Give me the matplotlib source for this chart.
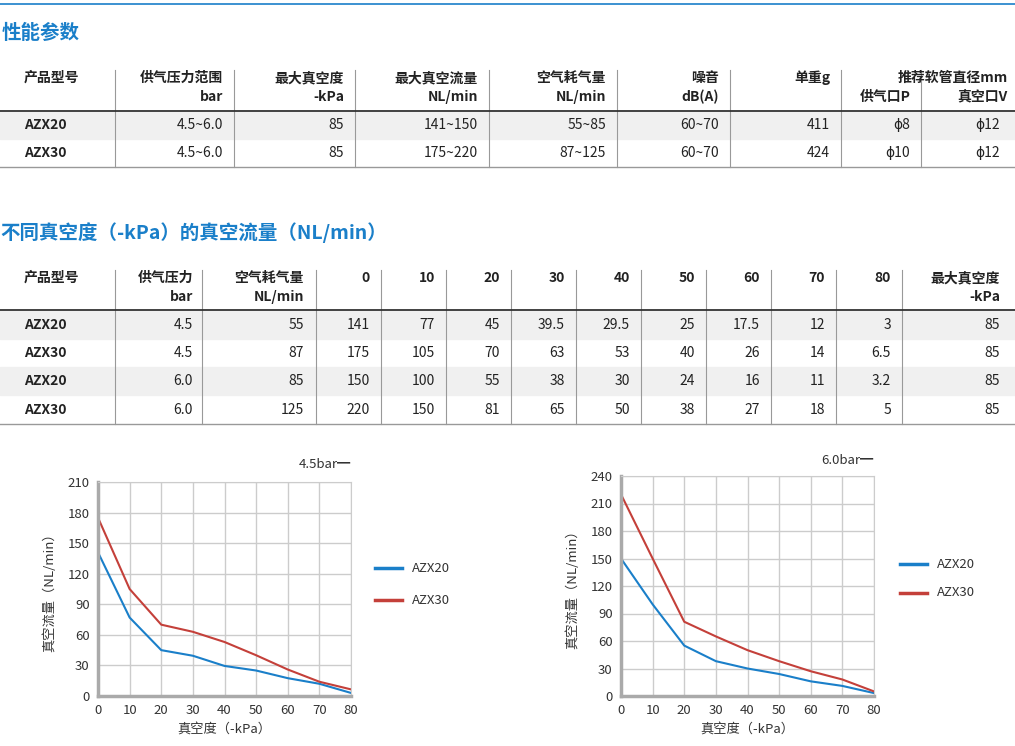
import matplotlib.pyplot as plt
import numpy as np

plt.rcParams['font.family'] = ['Noto Sans CJK SC', 'DejaVu Sans']

W, H = 1015, 746
BLUE = '#1a7fc9'
RED = '#c4403a'

# ---- data ----
vacuum = [0, 10, 20, 30, 40, 50, 60, 70, 80]
azx20_45 = [141, 77, 45, 39.5, 29.5, 25, 17.5, 12, 3]
azx30_45 = [175, 105, 70, 63, 53, 40, 26, 14, 6.5]
azx20_60 = [150, 100, 55, 38, 30, 24, 16, 11, 3.2]
azx30_60 = [220, 150, 81, 65, 50, 38, 27, 18, 5]

models = ['AZX20', 'AZX30']
supply_range = ['4.5~6.0', '4.5~6.0']
max_vac = ['85', '85']
max_flow = ['141~150', '175~220']
air_use = ['55~85', '87~125']
noise = ['60~70', '60~70']
weight = ['411', '424']
pipe_p = ['ϕ8', 'ϕ10']
pipe_v = ['ϕ12', 'ϕ12']

t2_models = ['AZX20', 'AZX30', 'AZX20', 'AZX30']
t2_pressure = ['4.5', '4.5', '6.0', '6.0']
t2_air = ['55', '87', '85', '125']
t2_flows = [azx20_45, azx30_45, azx20_60, azx30_60]

fig = plt.figure(figsize=(W / 100, H / 100), dpi=100)


def fx(x):
    return x / W


def fy(y):
    return 1 - y / H


def txt(x, y, s, ha='right', **kw):
    kw.setdefault('fontsize', 10)
    kw.setdefault('fontweight', 'bold')
    fig.text(fx(x), fy(y), s, ha=ha, va='center', color='#222222', **kw)


def hline(y, x0=0, x1=W, c='#999999', lw=1):
    fig.add_artist(plt.Line2D([fx(x0), fx(x1)], [fy(y), fy(y)], color=c, lw=lw))


def vline(x, y0, y1):
    fig.add_artist(plt.Line2D([fx(x), fx(x)], [fy(y0), fy(y1)], color='#999999', lw=0.8))


def shade(y0, y1):
    fig.add_artist(plt.Rectangle((0, fy(y1)), 1, (y1 - y0) / H, color='#f0f0f0', zorder=0))


hline(4, c=BLUE, lw=1.2)
fig.text(fx(2), fy(33), '性能参数', color=BLUE, fontsize=14, fontweight='bold', va='center')

# ---- table 1 ----
shade(112, 139)
seps1 = [115, 234, 355, 489, 617, 730, 841, 921]
for x in seps1:
    vline(x, 70, 167)
hline(111, c='#333333', lw=1.3)
hline(167)
txt(24, 78, '产品型号', ha='left')
heads = [('供气压力范围', 'bar'), ('最大真空度', '-kPa'), ('最大真空流量', 'NL/min'),
         ('空气耗气量', 'NL/min'), ('噪音', 'dB(A)')]
for (a, b), x in zip(heads, seps1[1:6]):
    txt(x - 11, 78, a)
    txt(x - 11, 97, b)
txt(830, 78, '单重g')
txt(1008, 78, '推荐软管直径mm')
txt(911, 97, '供气口P')
txt(1008, 97, '真空口V')
for i, y in enumerate([125, 153]):
    txt(24, y, models[i], ha='left')
    vals = [supply_range[i], max_vac[i], max_flow[i], air_use[i], noise[i], weight[i], pipe_p[i]]
    for v, x in zip(vals, seps1[1:]):
        txt(x - 11, y, v, fontweight='normal')
    txt(1000, y, pipe_v[i], fontweight='normal')

fig.text(fx(0), fy(233), '不同真空度（-kPa）的真空流量（NL/min）', color=BLUE,
         fontsize=14, fontweight='bold', va='center')

# ---- table 2 ----
shade(311, 339)
shade(367, 395)
seps2 = [115, 202, 316, 381, 446, 511, 576, 641, 706, 771, 836, 902]
for x in seps2:
    vline(x, 270, 424)
hline(310, c='#333333', lw=1.3)
hline(424)
txt(24, 278, '产品型号', ha='left')
txt(193, 278, '供气压力')
txt(193, 297, 'bar')
txt(304, 278, '空气耗气量')
txt(304, 297, 'NL/min')
for v, x in zip(vacuum, seps2[3:]):
    txt(x - 11, 278, str(v))
txt(1000, 278, '最大真空度')
txt(1000, 297, '-kPa')
for i, y in enumerate([325, 353, 381, 410]):
    txt(24, y, t2_models[i], ha='left')
    txt(193, y, t2_pressure[i], fontweight='normal')
    txt(304, y, t2_air[i], fontweight='normal')
    for v, x in zip(t2_flows[i], seps2[3:]):
        txt(x - 11, y, f'{v:g}', fontweight='normal')
    txt(1000, y, '85', fontweight='normal')


# ---- charts ----
def chart(x0, x1, ytop, ybot, ymax, s20, s30, label, ly):
    ax = fig.add_axes([fx(x0), fy(ybot), (x1 - x0) / W, (ybot - ytop) / H])
    ax.plot(vacuum, s20, color=BLUE, lw=1.5)
    ax.plot(vacuum, s30, color=RED, lw=1.5)
    ax.set_xlim(0, 80)
    ax.set_ylim(0, ymax)
    ax.set_xticks(vacuum)
    ax.set_yticks(np.arange(0, ymax + 1, 30))
    ax.grid(color='#cccccc', lw=1)
    ax.set_axisbelow(True)
    for s in ['top', 'right']:
        ax.spines[s].set_color('#cccccc')
    for s in ['left', 'bottom']:
        ax.spines[s].set_color('#aaaaaa')
        ax.spines[s].set_linewidth(2.5)
    ax.tick_params(length=0, labelsize=9.5, colors='#333333', pad=6)
    ax.set_xlabel('真空度（-kPa）', fontsize=9.5, color='#333333', labelpad=4)
    ax.set_ylabel('真空流量（NL/min）', fontsize=9.5, color='#333333', labelpad=8)
    fig.text(fx(x1), fy(ly), label + '━', ha='right', va='center', fontsize=9.5, color='#333333')
    return ax


chart(98, 351, 482, 696, 210, azx20_45, azx30_45, '4.5bar', 465)
chart(621, 874, 476, 696, 240, azx20_60, azx30_60, '6.0bar', 461)

for (lx, y20, y30) in [(375, 568, 600), (900, 564, 593)]:
    for y, c, s in [(y20, BLUE, 'AZX20'), (y30, RED, 'AZX30')]:
        fig.add_artist(plt.Line2D([fx(lx), fx(lx + 27)], [fy(y), fy(y)], color=c, lw=2.5))
        fig.text(fx(lx + 37), fy(y), s, va='center', fontsize=9.5, color='#333333')

fig.savefig('out.png', dpi=100)
